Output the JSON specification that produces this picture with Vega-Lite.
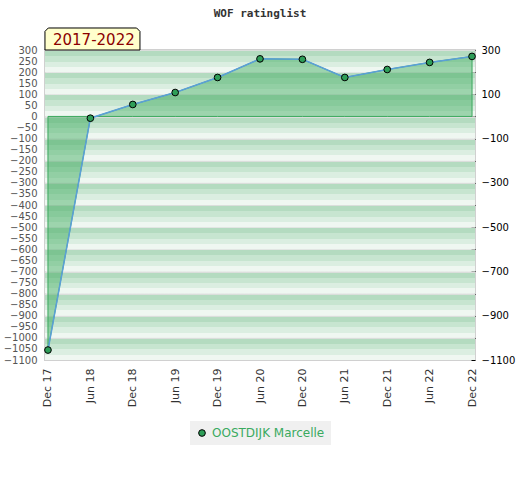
{
  "$schema": "https://vega.github.io/schema/vega-lite/v6.json",
  "autosize": "none",
  "width": 430,
  "height": 310,
  "padding": {"left": 45, "top": 50, "right": 45, "bottom": 120},
  "background": "white",
  "title": {
    "text": "WOF ratinglist",
    "font": "DejaVu Sans Mono",
    "fontSize": 11,
    "fontWeight": "bold",
    "color": "#333333",
    "offset": 7
  },
  "datasets": {
    "rating": [
      {"period": "Dec 17", "value": -1055, "name": "OOSTDIJK Marcelle"},
      {"period": "Jun 18", "value": -8, "name": "OOSTDIJK Marcelle"},
      {"period": "Dec 18", "value": 54, "name": "OOSTDIJK Marcelle"},
      {"period": "Jun 19", "value": 108, "name": "OOSTDIJK Marcelle"},
      {"period": "Dec 19", "value": 176, "name": "OOSTDIJK Marcelle"},
      {"period": "Jun 20", "value": 260, "name": "OOSTDIJK Marcelle"},
      {"period": "Dec 20", "value": 258, "name": "OOSTDIJK Marcelle"},
      {"period": "Jun 21", "value": 176, "name": "OOSTDIJK Marcelle"},
      {"period": "Dec 21", "value": 212, "name": "OOSTDIJK Marcelle"},
      {"period": "Jun 22", "value": 244, "name": "OOSTDIJK Marcelle"},
      {"period": "Dec 22", "value": 271, "name": "OOSTDIJK Marcelle"}
    ],
    "bands": [
      {"top": 300, "bottom": 200},
      {"top": 200, "bottom": 100},
      {"top": 100, "bottom": 0},
      {"top": 0, "bottom": -100},
      {"top": -100, "bottom": -200},
      {"top": -200, "bottom": -300},
      {"top": -300, "bottom": -400},
      {"top": -400, "bottom": -500},
      {"top": -500, "bottom": -600},
      {"top": -600, "bottom": -700},
      {"top": -700, "bottom": -800},
      {"top": -800, "bottom": -900},
      {"top": -900, "bottom": -1000},
      {"top": -1000, "bottom": -1100}
    ],
    "caption": [
      {"period": "Dec 17", "value": 300, "label": "2017-2022"}
    ]
  },
  "resolve": {"axis": {"y": "independent"}},
  "layer": [
    {
      "data": {"name": "bands"},
      "mark": {
        "type": "rect",
        "color": {
          "gradient": "linear",
          "x1": 0, "y1": 0, "x2": 0, "y2": 1,
          "stops": [
            {"offset": 0, "color": "#dadedb"},
            {"offset": 0.05, "color": "#dadedb"},
            {"offset": 0.05, "color": "#b4dbc0"},
            {"offset": 0.28, "color": "#b4dbc0"},
            {"offset": 0.28, "color": "#c7e5d0"},
            {"offset": 0.52, "color": "#c7e5d0"},
            {"offset": 0.52, "color": "#dbeee1"},
            {"offset": 0.76, "color": "#dbeee1"},
            {"offset": 0.76, "color": "#eff7f1"},
            {"offset": 1, "color": "#eff7f1"}
          ]
        }
      },
      "encoding": {
        "y": {
          "field": "top",
          "type": "quantitative",
          "scale": {"domain": [-1100, 300], "nice": false, "zero": false},
          "axis": {
            "orient": "right",
            "values": [300, 200, 100, 0, -100, -200, -300, -400, -500, -600, -700, -800, -900, -1000, -1100],
            "format": "d",
            "labelExpr": "abs(datum.value) % 200 == 100 ? datum.label : ''",
            "title": null,
            "grid": false,
            "domain": false,
            "ticks": true,
            "tickSize": -4,
            "tickColor": "black",
            "labelColor": "black",
            "labelFontSize": 10,
            "labelFont": "DejaVu Sans",
            "labelPadding": 10,
            "labelBound": false,
            "labelOverlap": false
          }
        },
        "y2": {"field": "bottom"}
      }
    },
    {
      "data": {"name": "rating"},
      "mark": {"type": "area", "color": "#3aa85c", "fillOpacity": 0.45, "stroke": "#3aa85c", "strokeWidth": 1},
      "encoding": {
        "x": {
          "field": "period",
          "type": "ordinal",
          "sort": null,
          "scale": {"type": "point", "padding": 0.07},
          "axis": {
            "title": null,
            "labelAngle": -90,
            "ticks": false,
            "domain": false,
            "labelColor": "#333333",
            "labelFontSize": 11,
            "labelFont": "DejaVu Sans",
            "labelPadding": 8
          }
        },
        "y": {
          "field": "value",
          "type": "quantitative",
          "axis": {
            "orient": "left",
            "title": null,
            "values": [300, 250, 200, 150, 100, 50, 0, -50, -100, -150, -200, -250, -300, -350, -400, -450, -500, -550, -600, -650, -700, -750, -800, -850, -900, -950, -1000, -1050, -1100],
            "format": "d",
            "grid": false,
            "ticks": false,
            "domain": false,
            "labelColor": "#555555",
            "labelFontSize": 10,
            "labelFont": "DejaVu Sans",
            "labelPadding": 8,
            "labelBound": false,
            "labelOverlap": false
          }
        },
        "y2": {"datum": 0}
      }
    },
    {
      "data": {"name": "rating"},
      "mark": {"type": "line", "color": "#5b9fd8", "strokeWidth": 1.5},
      "encoding": {
        "x": {"field": "period", "type": "ordinal", "sort": null},
        "y": {"field": "value", "type": "quantitative", "axis": null}
      }
    },
    {
      "data": {"name": "rating"},
      "mark": {"type": "point", "filled": true, "size": 45, "stroke": "black", "strokeWidth": 1, "opacity": 1},
      "encoding": {
        "x": {"field": "period", "type": "ordinal", "sort": null},
        "y": {"field": "value", "type": "quantitative", "axis": null},
        "color": {
          "field": "name",
          "type": "nominal",
          "scale": {"domain": ["OOSTDIJK Marcelle"], "range": ["#2e9e58"]},
          "legend": {
            "title": null,
            "orient": "bottom",
            "direction": "horizontal",
            "fillColor": "#f0f0f0",
            "padding": 6,
            "offset": 14,
            "labelColor": "#3aaa5f",
            "labelFontSize": 12,
            "labelFont": "DejaVu Sans",
            "symbolType": "circle",
            "symbolSize": 45,
            "symbolStrokeColor": "black",
            "symbolStrokeWidth": 1
          }
        }
      }
    },
    {
      "data": {"name": "caption"},
      "mark": {
        "type": "point",
        "shape": "M-1,0.2316L-1,-0.16L-0.93,-0.2316L0.93,-0.2316L1,-0.16L1,0.2316Z",
        "size": 9025,
        "filled": true,
        "fill": "#ffffcc",
        "stroke": "black",
        "strokeWidth": 1,
        "opacity": 1,
        "xOffset": 44.5,
        "yOffset": -11
      },
      "encoding": {
        "x": {"field": "period", "type": "ordinal", "sort": null},
        "y": {"field": "value", "type": "quantitative", "axis": null}
      }
    },
    {
      "data": {"name": "caption"},
      "mark": {
        "type": "text",
        "align": "left",
        "baseline": "alphabetic",
        "dx": 5,
        "dy": -5,
        "font": "DejaVu Sans",
        "fontSize": 15,
        "color": "#8b0000"
      },
      "encoding": {
        "x": {"field": "period", "type": "ordinal", "sort": null},
        "y": {"field": "value", "type": "quantitative", "axis": null},
        "text": {"field": "label"}
      }
    }
  ],
  "config": {
    "view": {"stroke": "#d0d0d0", "strokeWidth": 2},
    "legend": {"layout": {"bottom": {"anchor": "middle"}}}
  }
}
